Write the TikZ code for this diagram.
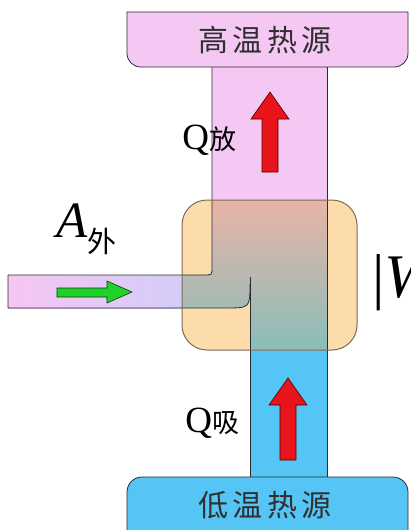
\documentclass[tikz,border=0pt]{standalone}
\usepackage{fontspec}
\setmainfont{Liberation Serif}
\newfontfamily\cjk{Noto Sans CJK SC}
\newfontfamily\cjkwide[LetterSpace=14]{Noto Sans CJK SC}
\usetikzlibrary{arrows.meta}
\definecolor{hotsrc}{HTML}{F5C8F3}
\definecolor{coldsrc}{HTML}{55C5F5}
\definecolor{engine}{HTML}{FCDCAB}
\definecolor{engineline}{HTML}{7B6A55}
\definecolor{pipeline}{HTML}{2A2A35}
\definecolor{pipeleft}{HTML}{F6C6F2}
\definecolor{piperight}{HTML}{D3CCF8}
\definecolor{ptop}{HTML}{ECB3A6}
\definecolor{pmid}{HTML}{C8AFA2}
\definecolor{pbot}{HTML}{86BEBA}
\definecolor{heatred}{HTML}{E8141B}
\definecolor{workgreen}{HTML}{22D02A}
\definecolor{labelgray}{HTML}{303030}

\begin{document}
\begin{tikzpicture}[x=1pt,y=-1pt,line width=0.8pt]
\useasboundingbox (0,0) rectangle (410,530);
\clip (0,0) rectangle (410,530);
% ---------- upward block arrow for the heat flow ----------
% #1 = centre x, #2 = tip y, #3 = tail y
\newcommand{\heatarrow}[3]{%
  \draw[fill=heatred,draw=black!70!red,line width=0.6]
    (#1,#2) -- ({#1+19},{#2+27}) -- ({#1+8},{#2+27}) -- ({#1+8},#3)
    -- ({#1-8},#3) -- ({#1-8},{#2+27}) -- ({#1-19},{#2+27}) -- cycle;
}
% ---------- pipes: hot column, cold column, work inlet ----------
\fill[hotsrc] (212,67) rectangle (327,200);
\fill[coldsrc] (250,350) rectangle (327,477);
\shade[left color=pipeleft,right color=piperight] (8,275) rectangle (185,308);
% ---------- reservoirs ----------
\draw[fill=hotsrc,draw=pipeline] (127,12) -- (408,12) -- (408,53)
  .. controls (408,61) and (402,67) .. (394,67) -- (141,67)
  .. controls (133,67) and (127,61) .. (127,53) -- cycle;
\draw[fill=coldsrc,draw=pipeline,rounded corners=15] (127,477) rectangle (408,560);
% ---------- engine body with the joined flow inside ----------
\fill[engine,rounded corners=25] (182,200) rectangle (357,350);
\begin{scope}
  \clip[rounded corners=25] (182,200) rectangle (357,350);
  \shade[top color=ptop,middle color=pmid,bottom color=pbot]
    (212,195) -- (212,267) .. controls (212,275) .. (204,275) -- (175,275)
    -- (175,308) -- (225,308) .. controls (250,308) .. (250,283)
    -- (250,355) -- (327,355) -- (327,195) -- cycle;
\end{scope}
% pipe walls
\draw[pipeline] (8,275) -- (204,275) .. controls (212,275) .. (212,267) -- (212,67);
\draw[pipeline] (327,67) -- (327,477);
\draw[pipeline] (250,477) -- (250,277);
\draw[pipeline] (8,275) -- (8,308) -- (225,308) .. controls (250,308) .. (250,284);
\draw[engineline,line width=1pt,rounded corners=25] (182,200) rectangle (357,350);
% ---------- flow arrows ----------
\foreach \cx/\tip/\tail in {270/92/172, 288/378/460}{%
  \heatarrow{\cx}{\tip}{\tail}
}
\draw[fill=workgreen,draw=black!75!green,line width=0.6]
  (132,292) -- (107,281) -- (107,288) -- (57,288) -- (57,297) -- (107,297) -- (107,303) -- cycle;
% ---------- labels ----------
\node[text=labelgray] (hot) at (265,40) {\fontsize{30}{30}\selectfont\cjkwide 高温热源};
\node[text=labelgray] (cold) at (265,505) {\fontsize{30}{30}\selectfont\cjkwide 低温热源};
\node[anchor=base west,inner sep=0] (qout) at (182,149)
  {\fontsize{37}{37}\selectfont Q\fontsize{27}{27}\selectfont\cjk 放};
\node[anchor=base west,inner sep=0] (qin) at (185,432)
  {\fontsize{37}{37}\selectfont Q\fontsize{27}{27}\selectfont\cjk 吸};
\node[anchor=base west,inner sep=0] (awork) at (56,237)
  {\fontsize{51}{51}\selectfont\itshape A\raisebox{-15pt}{\fontsize{29}{29}\selectfont\upshape\cjk 外}};
\node[anchor=base west,inner sep=0] (wnet) at (372,297)
  {\fontsize{62}{62}\selectfont|\itshape W|};
\end{tikzpicture}
\end{document}
